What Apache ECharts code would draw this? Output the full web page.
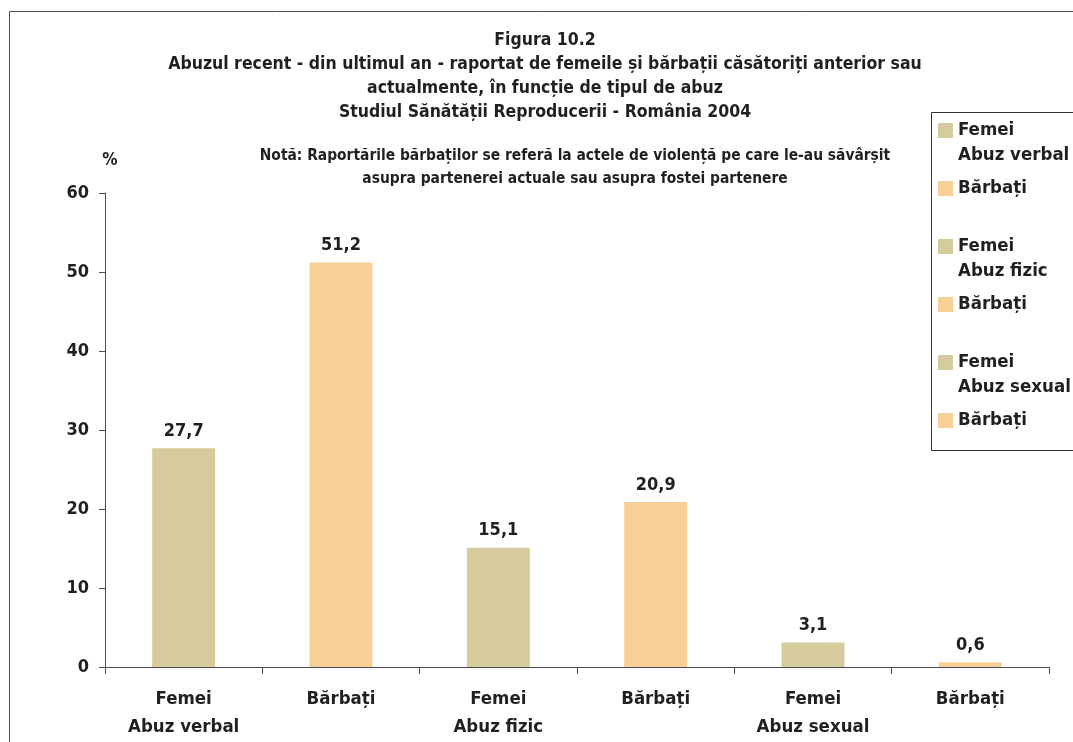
<!DOCTYPE html>
<html>
<head>
<meta charset="utf-8">
<script src="https://cdn.jsdelivr.net/npm/echarts@6/dist/echarts.min.js"></script>
<style>
  html, body { margin: 0; padding: 0; background: #fff; }
  #chart { width: 1073px; height: 742px; }
</style>
</head>
<body>
<div id="chart"></div>
<script>
// Category labels along the x axis
const categories = ['Femei\nAbuz verbal', 'Bărbați', 'Femei\nAbuz fizic', 'Bărbați', 'Femei\nAbuz sexual', 'Bărbați'];
// Series names (one bar per series) and their legend labels
const seriesNames = ['Femei - Abuz verbal', 'Bărbați - Abuz verbal', 'Femei - Abuz fizic', 'Bărbați - Abuz fizic', 'Femei - Abuz sexual', 'Bărbați - Abuz sexual'];
const legendLabels = ['Femei\nAbuz verbal', 'Bărbați\n ', 'Femei\nAbuz fizic', 'Bărbați\n ', 'Femei\nAbuz sexual', 'Bărbați\n '];
// Percent reporting abuse in the last year
const values = [27.7, 51.2, 15.1, 20.9, 3.1, 0.6];
// Group of each bar: 0 = women, 1 = men
const groups = [0, 1, 0, 1, 0, 1];
// y axis ticks
const yTicks = [0, 10, 20, 30, 40, 50, 60];

const FONT = '"DejaVu Sans Condensed", "Liberation Sans", sans-serif';
const INK = '#231f20';
const AXIS = '#4d4d4d';
const groupColors = ['#d6cb9c', '#f9cf98'];

const chart = echarts.init(document.getElementById('chart'), null, { renderer: 'canvas' });

const series = seriesNames.map((name, i) => ({
  name: name,
  type: 'bar',
  barWidth: '40%',
  barGap: '-100%',
  itemStyle: { color: groupColors[groups[i]] },
  label: {
    show: true,
    position: 'top',
    distance: 8,
    color: INK,
    fontFamily: FONT,
    fontWeight: 'bold',
    fontSize: 18,
    formatter: p => String(p.value).replace('.', ',')
  },
  data: values.map((v, j) => (j === i ? v : '-'))
}));

const labelByName = {};
seriesNames.forEach((n, i) => { labelByName[n] = legendLabels[i]; });

const option = {
  backgroundColor: '#fff',
  animation: false,
  title: [
    {
      text: 'Figura 10.2\nAbuzul recent - din ultimul an - raportat de femeile și bărbații căsătoriți anterior sau\nactualmente, în funcție de tipul de abuz\nStudiul Sănătății Reproducerii - România 2004',
      left: 545,
      top: 28,
      textAlign: 'center',
      padding: 0,
      textStyle: { fontFamily: FONT, fontWeight: 'bold', fontSize: 17.5, lineHeight: 24, color: INK }
    },
    {
      text: 'Notă: Raportările bărbaților se referă la actele de violență pe care le-au săvârșit\nasupra partenerei actuale sau asupra fostei partenere',
      left: 575,
      top: 144,
      textAlign: 'center',
      padding: 0,
      textStyle: { fontFamily: FONT, fontWeight: 'bold', fontSize: 15.4, lineHeight: 23, color: INK }
    }
  ],
  legend: {
    orient: 'vertical',
    left: 938,
    top: 118,
    padding: 0,
    itemGap: 8,
    itemWidth: 15,
    itemHeight: 40,
    icon: 'path://M0,0h15v15h-15z M0,39.9h0.1v0.1h-0.1z',
    selectedMode: false,
    data: seriesNames,
    formatter: name => labelByName[name],
    textStyle: { fontFamily: FONT, fontWeight: 'bold', fontSize: 18.5, lineHeight: 25, color: INK }
  },
  grid: { left: 105, right: 24, top: 193, bottom: 75, containLabel: false },
  xAxis: {
    type: 'category',
    data: categories,
    boundaryGap: true,
    axisLine: { lineStyle: { color: AXIS, width: 1 } },
    axisTick: { show: true, length: 7, alignWithLabel: false, lineStyle: { color: AXIS } },
    axisLabel: {
      interval: 0,
      margin: 18,
      color: INK,
      fontFamily: FONT,
      fontWeight: 'bold',
      fontSize: 18.5,
      lineHeight: 28
    },
    splitLine: { show: false }
  },
  yAxis: {
    type: 'value',
    min: yTicks[0],
    max: yTicks[yTicks.length - 1],
    interval: 10,
    name: '%',
    nameLocation: 'end',
    nameGap: 24,
    nameTextStyle: { fontFamily: FONT, fontWeight: 'bold', fontSize: 17, color: INK, padding: [0, 0, 0, 10] },
    axisLine: { show: true, lineStyle: { color: AXIS, width: 1 } },
    axisTick: { show: true, length: 6, lineStyle: { color: AXIS } },
    axisLabel: { margin: 16, color: INK, fontFamily: FONT, fontWeight: 'bold', fontSize: 18 },
    splitLine: { show: false }
  },
  graphic: [
    {
      type: 'rect',
      silent: true,
      shape: { x: 9.5, y: 11.5, width: 1100, height: 800 },
      style: { fill: 'none', stroke: AXIS, lineWidth: 1 }
    },
    {
      type: 'rect',
      silent: true,
      shape: { x: 931.5, y: 112.5, width: 200, height: 338 },
      style: { fill: 'none', stroke: '#333', lineWidth: 1 }
    }
  ],
  series: series
};

chart.setOption(option);
</script>
</body>
</html>
